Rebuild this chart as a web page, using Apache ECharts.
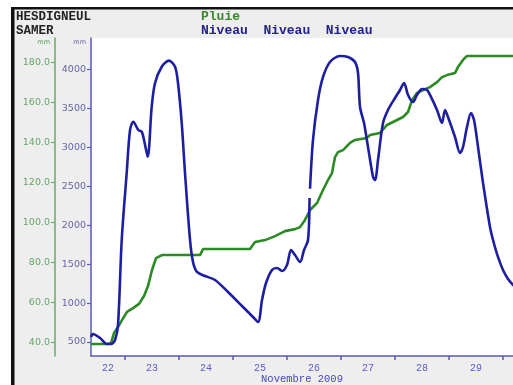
<!DOCTYPE html>
<html>
<head>
<meta charset="utf-8">
<script src="https://cdn.jsdelivr.net/npm/echarts@6/dist/echarts.min.js"></script>
<style>
  html, body { margin: 0; padding: 0; background: #ffffff; }
  #chart { width: 513px; height: 385px; }
</style>
</head>
<body>
<div id="chart"></div>
<script>
// Station names and series names shown in the header
const stationUpper = 'HESDIGNEUL';
const stationLower = 'SAMER';
const rainName = 'Pluie';
const levelName = 'Niveau';

// Time is expressed as day of month (November 2009), fractional part = time of day
const dayTicks = [23, 24, 25, 26, 27, 28, 29, 30];
const dayLabelPositions = [22.685, 23.5, 24.5, 25.5, 26.5, 27.5, 28.5, 29.5];
const monthLabel = 'Novembre 2009';

// Water level (Niveau), mm — null marks a short gap in the record
const levelTimes = [
  22.370, 22.407, 22.537, 22.667, 22.741, 22.815, 22.870, 22.939, 23.031, 23.093,
  23.154, 23.246, 23.309, 23.352, 23.420, 23.494, 23.556, 23.680, 23.815, 23.926,
  23.981, 24.050, 24.111, 24.204, 24.259, 24.333, 24.481, 24.667, 24.907, 25.167,
  25.352, 25.463, 25.537, 25.611, 25.722, 25.815, 25.907, 26.000, 26.074, 26.148,
  26.241, 26.315, 26.389, 26.417, 26.421, 26.426, 26.481, 26.574, 26.667, 26.796,
  26.981, 27.130, 27.259, 27.315, 27.352, 27.426, 27.500, 27.593, 27.630, 27.685,
  27.778, 27.870, 28.000, 28.093, 28.167, 28.241, 28.333, 28.407, 28.500, 28.593,
  28.648, 28.778, 28.870, 28.926, 28.981, 29.111, 29.204, 29.259, 29.333, 29.407,
  29.463, 29.537, 29.630, 29.759, 29.815, 29.907, 30.000, 30.093, 30.185, 30.278
];
const levelValues = [
  564, 603, 551, 474, 474, 526, 718, 1811, 2672, 3225,
  3331, 3225, 3203, 3096, 2882, 3524, 3829, 4038, 4116, 4038,
  3829, 3315, 2672, 1811, 1528, 1400, 1348, 1297, 1143, 963,
  834, 757, 1040, 1258, 1425, 1451, 1413, 1490, 1682, 1618,
  1528, 1682, 1811, 2350, null, 2470, 3096, 3611, 3906, 4099,
  4176, 4163, 4099, 3957, 3520, 3315, 3006, 2621, 2582, 2839,
  3315, 3482, 3636, 3739, 3829, 3675, 3585, 3675, 3752, 3739,
  3675, 3482, 3315, 3482, 3392, 3135, 2929, 3006, 3263, 3443,
  3353, 3006, 2544, 1978, 1811, 1593, 1425, 1310, 1233, 1168
];

// Cumulative rainfall (Pluie), mm
const rainTimes = [
  22.370, 22.685, 22.741, 22.796, 22.870, 22.944, 23.037, 23.148, 23.259, 23.352,
  23.426, 23.500, 23.574, 23.685, 24.389, 24.444, 25.315, 25.407, 25.593, 25.778,
  25.963, 26.148, 26.241, 26.333, 26.426, 26.556, 26.667, 26.759, 26.833, 26.889,
  26.944, 27.037, 27.167, 27.259, 27.481, 27.537, 27.722, 27.852, 28.037, 28.148,
  28.241, 28.315, 28.407, 28.519, 28.648, 28.778, 28.870, 28.963, 29.111, 29.167,
  29.259, 29.333, 30.278
];
const rainValues = [
  39.0, 39.0, 39.5, 44.5, 47.5, 51.0, 55.1, 57.0, 59.1, 63.1,
  68.1, 76.1, 82.1, 83.6, 83.6, 86.6, 86.6, 90.1, 91.1, 93.1,
  95.6, 96.6, 97.6, 101.2, 106.2, 109.7, 116.2, 121.2, 124.7, 132.7,
  135.2, 136.2, 139.8, 141.3, 142.3, 143.8, 144.8, 148.8, 151.3, 152.8,
  155.3, 161.3, 164.8, 166.3, 167.8, 170.3, 172.8, 173.8, 174.8, 177.9,
  181.4, 183.4, 183.4
];

// Axis tick values
const levelTickValues = [500, 1000, 1500, 2000, 2500, 3000, 3500, 4000];
const rainTickValues = [40, 60, 80, 100, 120, 140, 160, 180];

const pair = (xs, ys) => xs.map((x, i) => [x, ys[i]]);

const BLUE_AXIS = '#5a5ab8';
const GREEN_AXIS = '#6aaa6a';
const MONO = "'Liberation Mono', 'DejaVu Sans Mono', monospace";
const SANS = "'DejaVu Sans', Verdana, sans-serif";

const chart = echarts.init(document.getElementById('chart'), null, { renderer: 'canvas' });

chart.setOption({
  backgroundColor: '#eeeeee',
  animation: false,
  grid: {
    left: 91,
    top: 38,
    right: 0,
    height: 318,
    outerBoundsMode: 'none',
    containLabel: false,
    show: true,
    backgroundColor: '#ffffff',
    borderWidth: 0
  },
  xAxis: {
    type: 'value',
    min: 22.37,
    max: 30.185,
    axisLine: { show: true, onZero: false, lineStyle: { color: BLUE_AXIS, width: 1.5 } },
    axisTick: { show: true, customValues: dayTicks, length: 4, lineStyle: { color: BLUE_AXIS, width: 1.5 } },
    axisLabel: {
      customValues: dayLabelPositions,
      formatter: v => String(Math.floor(v)),
      color: '#5c5cc8',
      fontFamily: MONO,
      fontSize: 10,
      margin: 7
    },
    splitLine: { show: false },
    name: monthLabel,
    nameLocation: 'middle',
    nameGap: 18,
    nameMoveOverlap: false,
    nameTextStyle: { color: '#4646c0', fontFamily: MONO, fontSize: 10.5, verticalAlign: 'top', lineHeight: 11 }
  },
  yAxis: [
    {
      type: 'value',
      position: 'left',
      min: 320,
      max: 4407,
      axisLine: { show: true, lineStyle: { color: BLUE_AXIS, width: 1.5 } },
      axisTick: { show: true, customValues: levelTickValues, length: 4, lineStyle: { color: BLUE_AXIS, width: 1.2 } },
      axisLabel: { customValues: levelTickValues, formatter: v => String(v), color: '#6464a8', fontFamily: SANS, fontSize: 9.5, margin: 5 },
      splitLine: { show: false },
      name: 'mm',
      nameLocation: 'end',
      nameGap: -4.5,
      nameMoveOverlap: false,
      nameTextStyle: { color: '#6464a8', fontFamily: SANS, fontSize: 6.5, align: 'right', verticalAlign: 'middle', padding: [0, 5, 0, 0] }
    },
    {
      type: 'value',
      position: 'left',
      offset: 36,
      min: 33.0,
      max: 192.4,
      axisLine: { show: true, lineStyle: { color: GREEN_AXIS, width: 1.5 } },
      axisTick: { show: true, customValues: rainTickValues, length: 4, lineStyle: { color: GREEN_AXIS, width: 1.2 } },
      axisLabel: { customValues: rainTickValues, formatter: v => v.toFixed(1), color: '#6aa46a', fontFamily: SANS, fontSize: 9.5, margin: 5 },
      splitLine: { show: false },
      name: 'mm',
      nameLocation: 'end',
      nameGap: -4.5,
      nameMoveOverlap: false,
      nameTextStyle: { color: '#5a9a5a', fontFamily: SANS, fontSize: 6.5, align: 'right', verticalAlign: 'middle', padding: [0, 5, 0, 0] }
    }
  ],
  series: [
    {
      name: rainName,
      type: 'line',
      yAxisIndex: 1,
      data: pair(rainTimes, rainValues),
      showSymbol: false,
      smooth: false,
      lineStyle: { color: '#2b8a24', width: 2.6 },
      z: 2
    },
    {
      name: levelName,
      type: 'line',
      yAxisIndex: 0,
      data: pair(levelTimes, levelValues),
      showSymbol: false,
      smooth: 0.3,
      connectNulls: false,
      lineStyle: { color: '#1e1ea2', width: 2.6 },
      z: 3
    }
  ],
  graphic: [
    { type: 'rect', shape: { x: 0, y: 0, width: 513, height: 7 }, style: { fill: '#ffffff' }, silent: true },
    { type: 'rect', shape: { x: 0, y: 0, width: 11, height: 385 }, style: { fill: '#ffffff' }, silent: true },
    { type: 'rect', shape: { x: 11, y: 7, width: 502, height: 2.5 }, style: { fill: '#111111' }, silent: true },
    { type: 'rect', shape: { x: 11, y: 7, width: 3.5, height: 378 }, style: { fill: '#111111' }, silent: true },
    { type: 'text', left: 16, top: 10.5, style: { text: stationUpper, fill: '#222222', font: "bold 12.5px " + MONO } },
    { type: 'text', left: 16, top: 24.5, style: { text: stationLower, fill: '#222222', font: "bold 12.5px " + MONO } },
    { type: 'text', left: 201, top: 10.5, style: { text: rainName, fill: '#3a8a2a', font: "bold 13px " + MONO } },
    { type: 'text', left: 201, top: 24.5, style: { text: [levelName, levelName, levelName].join('  '), fill: '#22228c', font: "bold 13px " + MONO } }
  ]
});
</script>
</body>
</html>
